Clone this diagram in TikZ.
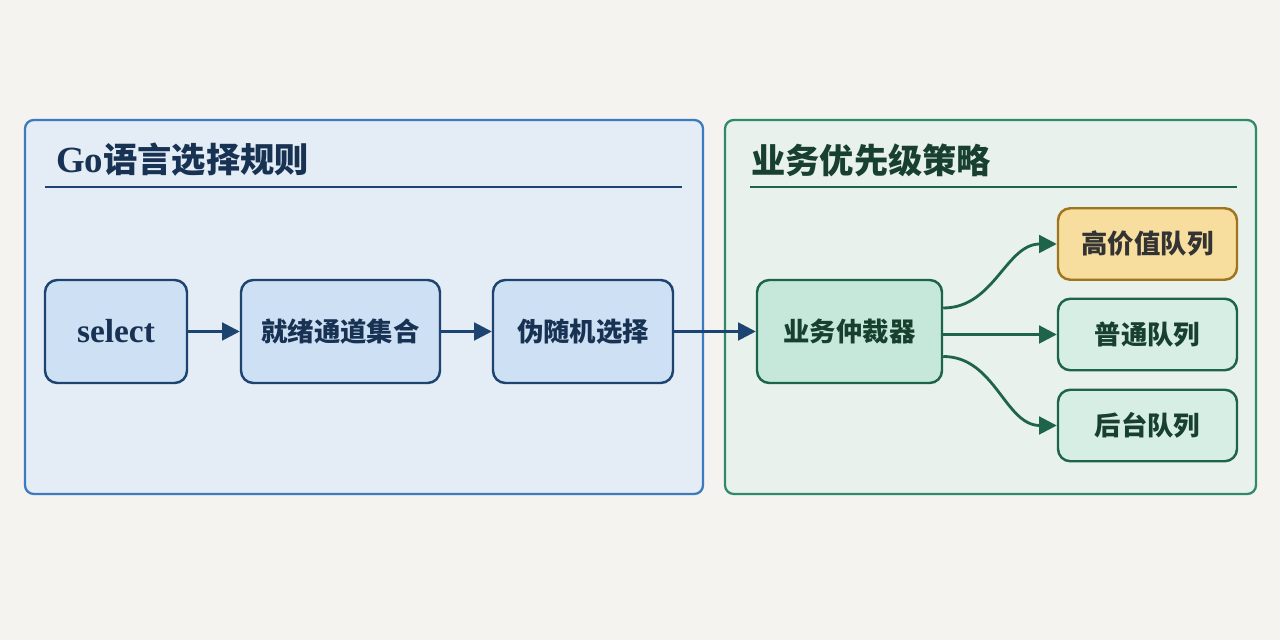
\documentclass[tikz,border=0pt]{standalone}
\usepackage{fontspec}
\usepackage{xcolor}
\usepackage{tikz}
\usetikzlibrary{arrows.meta, positioning, calc}
\setmainfont{Liberation Serif}
\newfontfamily\cjk{Noto Sans CJK SC}
\definecolor{paperbg}{RGB}{244,243,239}
\definecolor{gofill}{RGB}{228,236,245}
\definecolor{goline}{RGB}{60,123,191}
\definecolor{gonode}{RGB}{206,224,244}
\definecolor{gonavy}{RGB}{29,68,112}
\definecolor{gotext}{RGB}{24,50,84}
\definecolor{bizfill}{RGB}{232,241,236}
\definecolor{bizline}{RGB}{47,138,108}
\definecolor{biznode}{RGB}{197,232,218}
\definecolor{bizqueue}{RGB}{214,238,227}
\definecolor{bizdark}{RGB}{30,100,76}
\definecolor{biztext}{RGB}{24,64,46}
\definecolor{goldfill}{RGB}{247,222,158}
\definecolor{goldline}{RGB}{160,116,28}

\begin{document}
\begin{tikzpicture}[
    panel/.style={rectangle, rounded corners=5pt, line width=1.3pt},
    gobox/.style={rectangle, rounded corners=7pt, draw=gonavy, line width=1.4pt,
                  fill=gonode, minimum height=2.06cm, text=gotext,
                  font=\bfseries\fontsize{15}{18}\selectfont},
    bizbox/.style={rectangle, rounded corners=7pt, draw=bizdark, line width=1.4pt,
                   fill=bizqueue, minimum width=3.58cm, minimum height=1.43cm,
                   text=biztext, font=\bfseries\fontsize{15}{18}\selectfont},
    goflow/.style={line width=1.6pt, gonavy, -{Triangle[length=10pt, width=10pt]}},
    bizflow/.style={line width=1.6pt, bizdark, -{Triangle[length=10pt, width=10pt]}},
    ttl/.style={anchor=west, font=\bfseries\fontsize{19.5}{24}\selectfont}]

%% ── Canvas ───────────────────────────────────────────────────────────────────
\fill[paperbg] (0,0) rectangle (25.6,-12.8);
\useasboundingbox (0,0) rectangle (25.6,-12.8);

%% ── Panels ───────────────────────────────────────────────────────────────────
\node[panel, draw=goline, fill=gofill,
      minimum width=13.56cm, minimum height=7.48cm] (gopanel) at (7.28,-6.14) {};
\node[panel, draw=bizline, fill=bizfill,
      minimum width=10.62cm, minimum height=7.48cm] (bizpanel) at (19.81,-6.14) {};

\node[ttl, text=gotext] (gotitle) at (1.0,-3.2) {\fontsize{21}{24}\selectfont Go{\cjk\fontsize{19.5}{24}\selectfont 语言选择规则}};
\draw[gonavy, line width=0.9pt] (0.9,-3.74) -- (13.64,-3.74);

\node[ttl, text=biztext] (biztitle) at (14.9,-3.2) {\cjk 业务优先级策略};
\draw[bizdark, line width=0.9pt] (15.0,-3.74) -- (24.74,-3.74);

%% ── Go select chain ──────────────────────────────────────────────────────────
\node[gobox, minimum width=2.84cm, font=\bfseries\fontsize{19}{22}\selectfont]
    (sel) at (2.32,-6.63) {select};
\node[gobox, minimum width=3.98cm] (ready) at (6.81,-6.63) {\cjk 就绪通道集合};
\node[gobox, minimum width=3.6cm] (pick) at (11.66,-6.63) {\cjk 伪随机选择};

%% ── Business side ────────────────────────────────────────────────────────────
\node[bizbox, fill=biznode, minimum width=3.7cm, minimum height=2.06cm]
    (arbiter) at (16.99,-6.63) {\cjk 业务仲裁器};

\node[bizbox, fill=goldfill, draw=goldline, text=black!80]
    (highq) at (22.95,-4.88) {\cjk 高价值队列};
\node[bizbox] (normq) at (22.95,-6.69) {\cjk 普通队列};
\node[bizbox] (backq) at (22.95,-8.51) {\cjk 后台队列};

%% ── Connections ──────────────────────────────────────────────────────────────
\draw[goflow] (sel.east) -- (ready.west);
\draw[goflow] (ready.east) -- (pick.west);
\draw[goflow] (pick.east) -- (arbiter.west);

\draw[bizflow] ($(arbiter.east)+(0,0.47)$) to[out=0, in=180] (highq.west);
\draw[bizflow] (arbiter.east |- normq) -- (normq.west);
\draw[bizflow] ($(arbiter.east)+(0,-0.5)$) to[out=0, in=180] (backq.west);

\end{tikzpicture}
\end{document}
